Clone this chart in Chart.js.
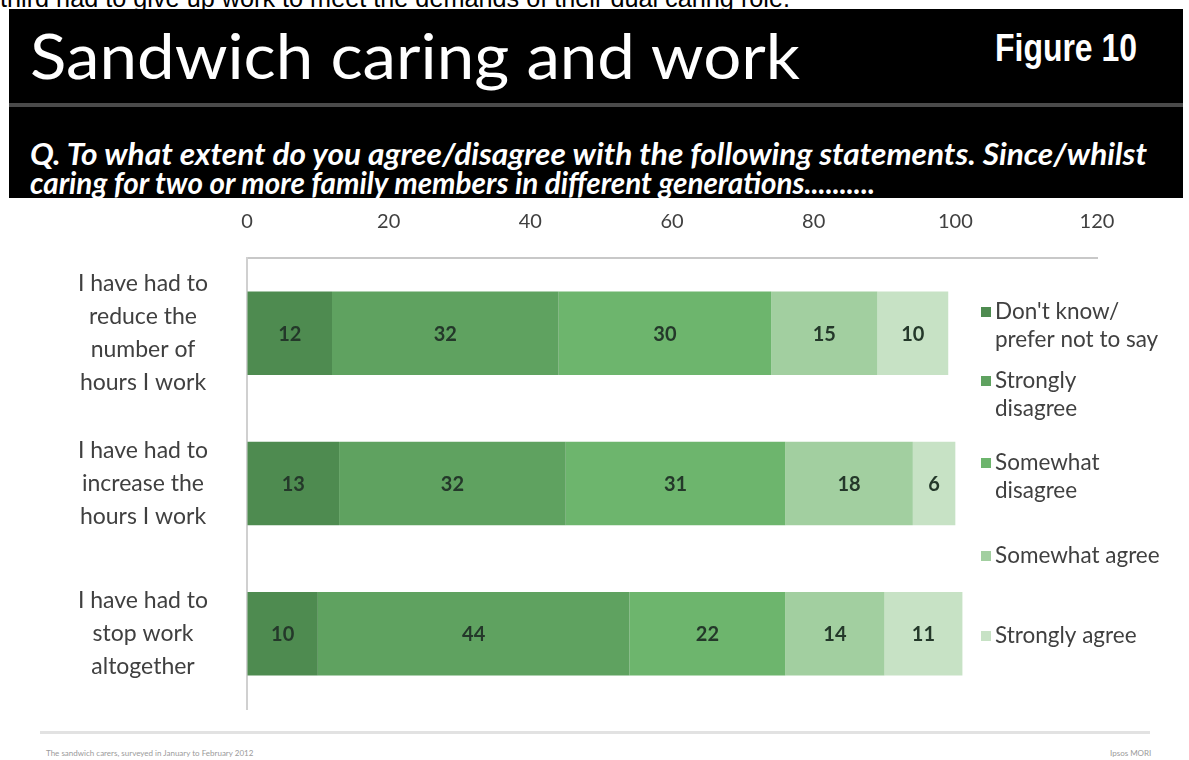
<!DOCTYPE html>
<html>
<head>
<meta charset="utf-8">
<script src="https://cdn.jsdelivr.net/npm/chart.js@4"></script>
<style>
  html, body { margin:0; padding:0; background:#fff; width:1189px; height:760px; overflow:hidden; position:relative; }
  .fit { transform-origin: 0 0; display:inline-block; }
  .topline { position:absolute; left:0; top:-14px; font-family:"Liberation Sans", Arial, sans-serif; font-size:25px; line-height:25px; color:#000; white-space:nowrap; }
  .band { position:absolute; left:9px; top:9px; width:1174px; height:189px; background:#000; z-index:2; }
  .sep { position:absolute; left:9px; top:103px; width:1174px; height:4px; background:#4a4a4a; z-index:3; }
  .title { position:absolute; left:30px; top:18px; font-family:Lato, sans-serif; font-size:62px; line-height:74.4px; color:#fff; white-space:nowrap; z-index:3; }
  .fig { position:absolute; left:995px; top:26px; font-family:"Liberation Sans", Arial, sans-serif; font-weight:bold; font-size:39px; line-height:44px; color:#fff; white-space:nowrap; z-index:3; }
  .q { position:absolute; left:30px; font-family:Lato, sans-serif; font-style:italic; font-weight:bold; font-size:30px; line-height:36px; color:#fff; white-space:nowrap; z-index:3; }
  .foot { position:absolute; left:40px; top:731px; width:1110px; height:3px; background:#e2e2e2; }
  .ftxt { position:absolute; top:748px; font-family:Lato, sans-serif; font-size:8px; color:#9a9a9a; white-space:nowrap; }
  #c { position:absolute; left:0; top:200px; }
</style>
</head>
<body>
<div class="band"></div>
<div class="topline fit" data-w="790">third had to give up work to meet the demands of their dual caring role.</div>
<div class="sep"></div>
<div class="title fit" data-w="770">Sandwich caring and work</div>
<div class="fig fit" data-w="142">Figure 10</div>
<div class="q fit" data-w="1117" style="top:135px;">Q. To what extent do you agree/disagree with the following statements. Since/whilst</div>
<div class="q fit" data-w="845" style="top:164px;">caring for two or more family members in different generations..........</div>
<div class="foot"></div>
<div class="ftxt" style="left:46px;">The sandwich carers, surveyed in January to February 2012</div>
<div class="ftxt" style="left:1110px;">Ipsos MORI</div>
<canvas id="c" width="1189" height="520"></canvas>
<script>
const categories = [
  ["I have had to","reduce the","number of","hours I work"],
  ["I have had to","increase the","hours I work"],
  ["I have had to","stop work","altogether"]
];
const seriesNames = [
  ["Don't know/","prefer not to say"],
  ["Strongly","disagree"],
  ["Somewhat","disagree"],
  ["Somewhat agree"],
  ["Strongly agree"]
];
const dontKnow = [12, 13, 10];
const stronglyDisagree = [32, 32, 44];
const somewhatDisagree = [30, 31, 22];
const somewhatAgree = [15, 18, 14];
const stronglyAgree = [10, 6, 11];
const xTicks = [0, 20, 40, 60, 80, 100, 120];
const colors = ['#4e8b50', '#5fa260', '#6db56d', '#a2cfa0', '#c7e2c5'];

const seriesValues = [dontKnow, stronglyDisagree, somewhatDisagree, somewhatAgree, stronglyAgree];

// horizontally fit header texts to the reference widths
document.querySelectorAll('.fit').forEach(el => {
  const w = el.getBoundingClientRect().width;
  const target = parseFloat(el.dataset.w);
  if (w > 0) el.style.transform = 'scaleX(' + (target / w) + ')';
});

// measure widest y label line to center labels at a fixed x
const mc = document.createElement('canvas').getContext('2d');
mc.font = '23px Lato';
let widest = 0;
categories.forEach(c => c.forEach(l => { widest = Math.max(widest, mc.measureText(l).width); }));
const yPad = Math.max(4, 247 - 143 - widest / 2);

const valueLabels = {
  id: 'valueLabels',
  afterDatasetsDraw(chart) {
    const ctx = chart.ctx;
    ctx.save();
    ctx.font = 'bold 20px Lato';
    ctx.fillStyle = '#24382a';
    ctx.textAlign = 'center';
    ctx.textBaseline = 'middle';
    chart.data.datasets.forEach((ds, i) => {
      const meta = chart.getDatasetMeta(i);
      meta.data.forEach((el, j) => {
        const cx = (el.x + el.base) / 2;
        ctx.fillText(String(ds.data[j]), cx, el.y + 1);
      });
    });
    ctx.restore();
  }
};

const sideLegend = {
  id: 'sideLegend',
  afterDraw(chart) {
    const ctx = chart.ctx;
    const a = chart.chartArea;
    const x0 = a.right - 116;
    const firstLines = [112, 181, 263, 356, 436];
    ctx.save();
    ctx.font = '22.5px Lato';
    ctx.textBaseline = 'middle';
    ctx.textAlign = 'left';
    chart.data.datasets.forEach((ds, i) => {
      const y = firstLines[i];
      ctx.fillStyle = ds.backgroundColor;
      ctx.fillRect(x0, y - 5, 10, 10);
      ctx.fillStyle = '#404040';
      seriesNames[i].forEach((line, k) => {
        ctx.fillText(line, x0 + 14, y + k * 28);
      });
    });
    ctx.restore();
  }
};

new Chart(document.getElementById('c'), {
  type: 'bar',
  data: {
    labels: categories,
    datasets: seriesValues.map((vals, i) => ({
      label: seriesNames[i].join(' '),
      data: vals,
      backgroundColor: colors[i],
      borderWidth: 0,
      barPercentage: 0.555,
      categoryPercentage: 1
    }))
  },
  options: {
    indexAxis: 'y',
    responsive: false,
    animation: false,
    layout: { padding: { left: 0, top: 0, right: 92, bottom: 11 } },
    plugins: { legend: { display: false }, tooltip: { enabled: false } },
    scales: {
      x: {
        position: 'top',
        stacked: true,
        min: 0, max: 120,
        afterBuildTicks(scale) { scale.ticks = xTicks.map(v => ({ value: v })); },
        afterFit(scale) { scale.height = 58; scale.paddingLeft = 0; scale.paddingRight = 0; },
        grid: { display: true, drawOnChartArea: false, drawTicks: false },
        border: { display: true, color: '#c8c8c8', width: 2 },
        ticks: { padding: 24, color: '#404040', font: { family: 'Lato', size: 20 } }
      },
      y: {
        stacked: true,
        afterFit(scale) { scale.width = 247; scale.paddingTop = 0; scale.paddingBottom = 0; },
        grid: { display: true, drawOnChartArea: false, drawTicks: false },
        border: { display: true, color: '#d0d0d0', width: 2 },
        ticks: { padding: yPad, crossAlign: 'center', color: '#404040', font: { family: 'Lato', size: 23, lineHeight: 33 / 23 } }
      }
    }
  },
  plugins: [valueLabels, sideLegend]
});
</script>
</body>
</html>
